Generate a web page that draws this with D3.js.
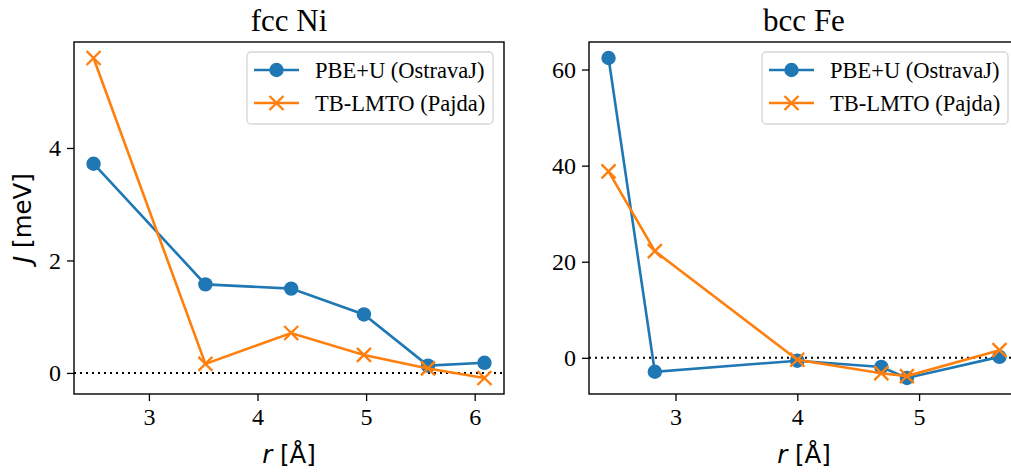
<!DOCTYPE html>
<html lang="en">
<head>
  <meta charset="UTF-8"/>
  <title>Exchange interactions J(r)</title>
  <script src="https://d3js.org/d3.v7.min.js"></script>
  <style>
    body { margin: 0; background: #fff; }
  </style>
</head>
<body>
<script>

var w = 1011;
var h = 473;

var SERIF = "'Liberation Serif', 'DejaVu Serif', serif";
var SANS = "'DejaVu Sans', sans-serif";

// fcc Ni
var niR      = [2.49, 3.52, 4.31, 4.98, 5.57, 6.09];
var niPBE    = [3.72, 1.575, 1.50, 1.04, 0.13, 0.18];
var niLMTO   = [5.60, 0.16, 0.71, 0.32, 0.08, -0.09];
var niXTicks = [3, 4, 5, 6];
var niYTicks = [0, 2, 4];

// bcc Fe
var feR      = [2.45, 2.83, 4.00, 4.69, 4.90, 5.66];
var fePBE    = [62.4, -2.9, -0.6, -1.9, -4.2, 0.2];
var feLMTO   = [38.8, 22.2, -0.4, -3.2, -3.8, 1.6];
var feXTicks = [3, 4, 5];
var feYTicks = [0, 20, 40, 60];

var seriesNames = ["PBE+U (OstravaJ)", "TB-LMTO (Pajda)"];
var seriesColors = ["#1f77b4", "#ff7f0e"];

var svg = d3.select("body")
            .append("svg")
            .attr("width", w)
            .attr("height", h);

function pad(ext) {
  var m = (ext[1] - ext[0]) * 0.05;
  return [ext[0] - m, ext[1] + m];
}

function panel(left, title, r, a, b, xt, yt, showYLabel) {
  var aw = 430, top = 42, ah = 352;

  var x = d3.scaleLinear()
            .domain(pad(d3.extent(r)))
            .range([left, left + aw]);
  var y = d3.scaleLinear()
            .domain(pad(d3.extent(a.concat(b))))
            .range([top + ah, top]);

  var g = svg.append("g");

  // zero line
  g.append("line")
   .attr("x1", left).attr("x2", left + aw)
   .attr("y1", y(0)).attr("y2", y(0))
   .attr("stroke", "#000")
   .attr("stroke-width", 2)
   .attr("stroke-dasharray", "2,4");

  var line = d3.line()
               .x(function(d) { return x(d[0]); })
               .y(function(d) { return y(d[1]); });

  [a, b].forEach(function(vals, k) {
    var pts = r.map(function(v, i) { return [v, vals[i]]; });
    g.append("path")
     .attr("d", line(pts))
     .attr("fill", "none")
     .attr("stroke", seriesColors[k])
     .attr("stroke-width", 2.6);

    if (k === 0) {
      g.selectAll(".dot")
       .data(pts)
       .enter()
       .append("circle")
       .attr("cx", function(d) { return x(d[0]); })
       .attr("cy", function(d) { return y(d[1]); })
       .attr("r", 7.2)
       .attr("fill", seriesColors[0]);
    } else {
      g.selectAll(".cross")
       .data(pts)
       .enter()
       .append("path")
       .attr("d", function(d) {
         var cx = x(d[0]), cy = y(d[1]), s = 7;
         return "M" + (cx - s) + "," + (cy - s) + "L" + (cx + s) + "," + (cy + s) +
                "M" + (cx - s) + "," + (cy + s) + "L" + (cx + s) + "," + (cy - s);
       })
       .attr("stroke", seriesColors[1])
       .attr("stroke-width", 2.4)
       .attr("fill", "none");
    }
  });

  // axes
  var xAxis = g.append("g")
               .attr("transform", "translate(0," + (top + ah) + ")")
               .call(d3.axisBottom(x).tickValues(xt).tickSize(7).tickPadding(6).tickFormat(d3.format("d")));
  var yAxis = g.append("g")
               .attr("transform", "translate(" + left + ",0)")
               .call(d3.axisLeft(y).tickValues(yt).tickSize(7).tickPadding(6).tickFormat(d3.format("d")));

  [xAxis, yAxis].forEach(function(ax) {
    ax.attr("font-family", null).attr("font-size", null);
    ax.select(".domain").remove();
    ax.selectAll("line").attr("stroke", "#000").attr("stroke-width", 1.3);
    ax.selectAll("text")
      .attr("fill", "#000")
      .style("font-family", SERIF)
      .style("font-size", "24px");
  });
  xAxis.selectAll("text").attr("dy", "0.75em");

  g.append("rect")
   .attr("x", left).attr("y", top)
   .attr("width", aw).attr("height", ah)
   .attr("fill", "none")
   .attr("stroke", "#000")
   .attr("stroke-width", 1.4);

  // title
  g.append("text")
   .attr("x", left + aw / 2)
   .attr("y", 31)
   .attr("text-anchor", "middle")
   .style("font-family", SERIF)
   .style("font-size", "31px")
   .text(title);

  // x label
  var xl = g.append("text")
            .attr("x", left + aw / 2)
            .attr("y", 463)
            .attr("text-anchor", "middle")
            .style("font-family", SANS)
            .style("font-size", "24.5px");
  xl.append("tspan").style("font-style", "italic").text("r");
  xl.append("tspan").text(" [Å]");

  if (showYLabel) {
    var yl = g.append("text")
              .attr("transform", "translate(31," + (top + ah / 2) + ") rotate(-90)")
              .attr("text-anchor", "middle")
              .style("font-family", SANS)
              .style("font-size", "24.5px");
    yl.append("tspan").style("font-style", "italic").text("J");
    yl.append("tspan").text(" [meV]");
  }

  // legend
  var lx = left + aw - 257, ly = top + 10;
  var lg = g.append("g").attr("transform", "translate(" + lx + "," + ly + ")");
  lg.append("rect")
    .attr("width", 246).attr("height", 72)
    .attr("rx", 4)
    .attr("fill", "#fff").attr("fill-opacity", 0.8)
    .attr("stroke", "#d6d6d6").attr("stroke-width", 1.3);

  seriesNames.forEach(function(name, k) {
    var yy = 18 + k * 33;
    lg.append("line")
      .attr("x1", 7).attr("x2", 52)
      .attr("y1", yy).attr("y2", yy)
      .attr("stroke", seriesColors[k]).attr("stroke-width", 2.6);
    if (k === 0) {
      lg.append("circle").attr("cx", 29.5).attr("cy", yy).attr("r", 7.2).attr("fill", seriesColors[0]);
    } else {
      lg.append("path")
        .attr("d", "M22.5," + (yy - 7) + "L36.5," + (yy + 7) + "M22.5," + (yy + 7) + "L36.5," + (yy - 7))
        .attr("stroke", seriesColors[1]).attr("stroke-width", 2.4);
    }
    lg.append("text")
      .attr("x", 68)
      .attr("y", yy)
      .attr("dy", "0.35em")
      .style("font-family", SERIF)
      .style("font-size", "22.5px")
      .text(name);
  });
}

panel(74, "fcc Ni", niR, niPBE, niLMTO, niXTicks, niYTicks, true);
panel(589, "bcc Fe", feR, fePBE, feLMTO, feXTicks, feYTicks, false);

</script>
</body>
</html>
